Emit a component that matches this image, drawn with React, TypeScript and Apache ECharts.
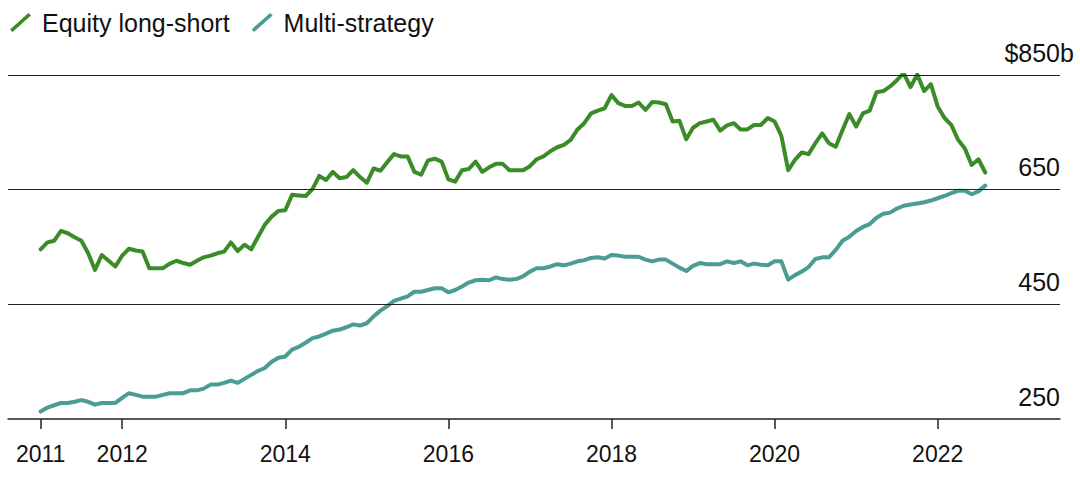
import React, { useEffect, useRef } from "react";
import * as echarts from "echarts";

// Monthly values, starting January 2011 (USD billions)
const START_YEAR = 2011;

const equityLongShort = [
  546, 558, 561, 578, 574, 567, 561, 539, 510, 536, 526, 516, // 2011
  535, 547, 544, 542, 513, 513, 513, 521, 526, 522, 519, 526, // 2012
  532, 535, 539, 542, 558, 543, 554, 546, 568, 589, 603, 613, // 2013
  614, 641, 640, 639, 651, 674, 667, 681, 670, 672, 684, 672, // 2014
  662, 687, 683, 698, 712, 708, 708, 681, 676, 701, 704, 699, // 2015
  668, 664, 684, 686, 699, 681, 689, 695, 695, 684, 684, 684, // 2016
  691, 703, 708, 717, 724, 728, 737, 755, 766, 783, 788, 792, // 2017
  815, 801, 796, 796, 802, 789, 803, 802, 799, 769, 770, 738, // 2018
  758, 766, 769, 772, 753, 762, 766, 755, 755, 763, 763, 775, // 2019
  769, 744, 684, 702, 715, 712, 731, 748, 731, 725, 754, 782, // 2020
  760, 783, 788, 820, 822, 830, 841, 853, 829, 851, 822, 834, // 2021
  795, 775, 763, 737, 722, 693, 703, 680, // 2022
];

const multiStrategy = [
  263, 270, 274, 278, 278, 280, 283, 280, 275, 278, 278, 278, // 2011
  287, 295, 292, 289, 289, 289, 292, 295, 295, 295, 300, 300, // 2012
  303, 310, 310, 313, 317, 313, 320, 327, 334, 339, 350, 357, // 2013
  359, 371, 376, 383, 391, 394, 399, 404, 406, 410, 415, 413, // 2014
  417, 429, 439, 447, 456, 460, 464, 472, 472, 475, 478, 478, // 2015
  471, 475, 481, 488, 492, 493, 492, 497, 494, 493, 494, 499, // 2016
  507, 513, 513, 516, 520, 518, 521, 525, 527, 531, 532, 530, // 2017
  536, 535, 533, 533, 533, 528, 525, 528, 528, 521, 514, 508, // 2018
  517, 522, 520, 520, 520, 525, 522, 525, 518, 521, 519, 518, // 2019
  525, 525, 493, 501, 507, 515, 529, 532, 532, 545, 561, 568, // 2020
  578, 585, 590, 601, 608, 610, 617, 622, 624, 626, 628, 631, // 2021
  635, 639, 644, 648, 648, 642, 647, 657, // 2022
];

const seriesNames = ["Equity long-short", "Multi-strategy"];
const xTickYears = [2011, 2012, 2014, 2016, 2018, 2020, 2022];
const yTickValues = [250, 450, 650, 850];
const gridValues = [450, 650, 850];

const GREEN = "#3c8b29";
const TEAL = "#4a9d93";
const INK = "#111111";
const RULE = "#222222";
const FONT = "'Liberation Sans', Arial, Helvetica, sans-serif";

const toPoints = (vals: number[]) =>
  vals.map((v, i) => [START_YEAR + i / 12, v]);

const LEGEND_ICON = "path://M0,16.5L18.5,0L21,2.5L2.5,19Z";

export default function App() {
  const ref = useRef<HTMLDivElement | null>(null);

  useEffect(() => {
    if (!ref.current) return;
    const chart = echarts.init(ref.current, null, { renderer: "svg" });
    const tok = { fontSize: 25, color: INK, fontFamily: FONT, align: "left" };
    chart.setOption({
      animation: false,
      backgroundColor: "#ffffff",
      textStyle: { fontFamily: FONT },
      legend: {
        left: 5,
        top: 5,
        padding: 5,
        icon: LEGEND_ICON,
        itemWidth: 21,
        itemHeight: 19,
        itemGap: 22,
        selectedMode: false,
        data: seriesNames,
        textStyle: {
          fontSize: 25,
          color: INK,
          fontFamily: FONT,
          padding: [0, 0, 0, 6],
        },
      },
      grid: { left: 8, right: 20, top: 75, bottom: 62, containLabel: false },
      xAxis: {
        type: "value",
        min: 2010.6,
        max: 2023.5,
        splitLine: { show: false },
        axisLine: { show: true, lineStyle: { color: RULE, width: 1.5 } },
        axisTick: {
          show: true,
          customValues: xTickYears,
          length: 10,
          lineStyle: { color: RULE, width: 1.5 },
        },
        axisLabel: {
          customValues: xTickYears,
          fontSize: 23,
          color: INK,
          fontFamily: FONT,
          margin: 23,
          formatter: (v: number) => String(Math.round(v)),
        },
      },
      yAxis: {
        type: "value",
        position: "right",
        min: 250,
        max: 850,
        splitLine: { show: false },
        axisLine: { show: false },
        axisTick: { show: false },
        axisLabel: {
          customValues: yTickValues,
          inside: true,
          margin: 0,
          fontSize: 25,
          color: INK,
          fontFamily: FONT,
          verticalAlign: "bottom",
          padding: [0, 0, 10, 0],
          formatter: (v: number) =>
            v === 850 ? "{p|$}{n|850}{s|b}" : "{n|" + v + "}",
          rich: {
            p: { ...tok },
            n: { ...tok },
            s: { ...tok, width: 0 },
          },
        },
      },
      series: [
        {
          name: seriesNames[0],
          type: "line",
          data: toPoints(equityLongShort),
          color: GREEN,
          showSymbol: false,
          symbol: "none",
          lineStyle: { color: GREEN, width: 4, cap: "round", join: "round" },
          z: 3,
          markLine: {
            silent: true,
            symbol: ["none", "none"],
            label: { show: false },
            emphasis: { disabled: true },
            lineStyle: { color: RULE, width: 1.2, type: "solid" },
            data: gridValues.map((v) => ({ yAxis: v })),
          },
        },
        {
          name: seriesNames[1],
          type: "line",
          data: toPoints(multiStrategy),
          color: TEAL,
          showSymbol: false,
          symbol: "none",
          lineStyle: { color: TEAL, width: 4, cap: "round", join: "round" },
          z: 3,
        },
      ],
    });
    return () => chart.dispose();
  }, []);

  return (
    <div
      ref={ref}
      style={{
        position: "absolute",
        left: 0,
        top: 0,
        width: 1080,
        height: 481,
        background: "#ffffff",
      }}
    />
  );
}
